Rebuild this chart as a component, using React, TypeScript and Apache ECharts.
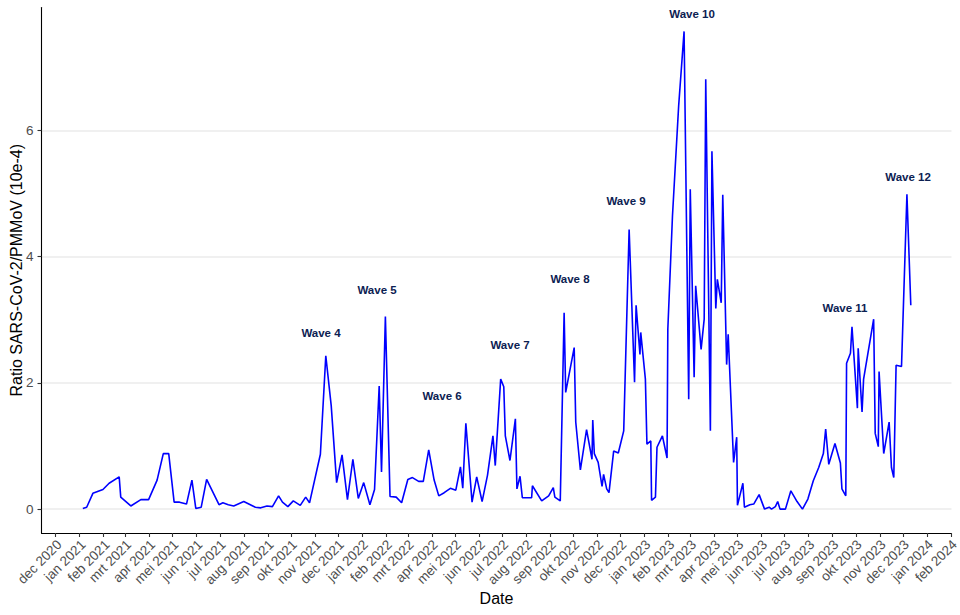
import React, { useEffect, useRef } from "react";
import * as echarts from "echarts";

const DAY = 86400000;
const ORIGIN = Date.UTC(2021, 0, 1);

// sampling dates, as days since 2021-01-01
const sampleDays = [
  4, 9, 17, 30, 38, 51, 53, 66, 79, 89, 100, 108, 115, 122, 129, 138, 145, 150, 157, 164,
  180, 185, 192, 199, 212, 227, 234, 242, 249, 257, 262, 269, 276, 285, 292, 297, 311, 318, 325, 332,
  339, 346, 353, 360, 367, 375, 381, 387, 390, 395, 401, 409, 416, 424, 430, 438, 444, 451, 458, 464,
  471, 479, 486, 492, 495, 499, 507, 513, 520, 527, 534, 537, 544, 548, 550, 556, 563, 565, 569, 572,
  584, 585, 597, 606, 612, 614, 621, 626, 628, 639, 641, 647, 655, 662, 663, 665, 670, 675, 677, 681,
  684, 690, 696, 703, 710, 717, 719, 724, 725, 731, 733, 738, 739, 744, 746, 753, 759, 760, 766, 774,
  781, 787, 789, 794, 796, 803, 807, 809, 815, 817, 822, 824, 829, 831, 836, 838, 845, 849, 850, 857,
  859, 866, 871, 878, 885, 891, 894, 899, 902, 905, 912, 919, 927, 934, 941, 948, 955, 961, 964, 968,
  976, 983, 985, 990, 991, 996, 998, 1005, 1006, 1011, 1013, 1026, 1028, 1032, 1033, 1039, 1046, 1049, 1052, 1055,
  1062, 1069, 1074,
];

// ratio SARS-CoV-2 / PMMoV (10e-4)
const ratioValues = [
  0.01, 0.03, 0.25, 0.31, 0.41, 0.51, 0.19, 0.05, 0.15, 0.15, 0.46, 0.88, 0.88, 0.11, 0.11, 0.08, 0.46, 0.01, 0.03, 0.47,
  0.07, 0.10, 0.07, 0.05, 0.12, 0.03, 0.02, 0.05, 0.04, 0.21, 0.11, 0.04, 0.13, 0.06, 0.19, 0.10, 0.87, 2.43, 1.64, 0.42,
  0.86, 0.15, 0.79, 0.17, 0.42, 0.07, 0.31, 1.95, 0.59, 3.05, 0.20, 0.19, 0.10, 0.47, 0.50, 0.44, 0.44, 0.94, 0.46, 0.21,
  0.26, 0.33, 0.30, 0.67, 0.33, 1.36, 0.11, 0.51, 0.12, 0.54, 1.16, 0.69, 2.06, 1.94, 1.16, 0.77, 1.43, 0.32, 0.52, 0.18,
  0.18, 0.37, 0.13, 0.21, 0.34, 0.19, 0.13, 3.11, 1.85, 2.56, 1.38, 0.62, 1.26, 0.79, 1.41, 0.88, 0.74, 0.36, 0.55, 0.32,
  0.26, 0.92, 0.89, 1.24, 4.43, 2.01, 3.23, 2.45, 2.80, 2.06, 1.03, 1.08, 0.14, 0.19, 0.98, 1.16, 0.81, 2.85, 4.64, 6.39,
  7.57, 1.74, 5.07, 2.09, 3.54, 2.53, 3.01, 6.81, 1.24, 5.67, 3.18, 3.64, 3.27, 4.98, 2.29, 2.77, 0.74, 1.14, 0.06, 0.41,
  0.03, 0.07, 0.08, 0.23, 0.00, 0.03, 0.00, 0.04, 0.12, 0.00, 0.00, 0.29, 0.12, 0.00, 0.16, 0.45, 0.66, 0.88, 1.27, 0.71,
  1.04, 0.73, 0.32, 0.21, 2.31, 2.47, 2.89, 1.60, 2.55, 1.54, 2.06, 3.01, 1.20, 0.99, 2.18, 0.88, 1.38, 0.66, 0.50, 2.28,
  2.26, 4.99, 3.23,
];

// wave annotations: label, position (days since 2021-01-01) and height
const waveNames = ["Wave 4", "Wave 5", "Wave 6", "Wave 7", "Wave 8", "Wave 9", "Wave 10", "Wave 11", "Wave 12"];
const waveDays = [311.8, 384.2, 468.2, 556.1, 633.6, 706, 791.3, 989, 1070.4];
const waveHeights = [2.79, 3.47, 1.79, 2.6, 3.64, 4.88, 7.84, 3.18, 5.26];

// axis labels
const monthNames = ["jan", "feb", "mrt", "apr", "mei", "jun", "jul", "aug", "sep", "okt", "nov", "dec"];
const yTicks = [0, 2, 4, 6];
const firstTick = { year: 2020, month: 11 };
const lastTick = { year: 2024, month: 1 };

const FONT = "'Liberation Sans', Arial, Helvetica, sans-serif";

function monthTicks(): number[] {
  const out: number[] = [];
  let y = firstTick.year;
  let m = firstTick.month;
  while (y < lastTick.year || (y === lastTick.year && m <= lastTick.month)) {
    out.push(Date.UTC(y, m, 1));
    m++;
    if (m > 11) {
      m = 0;
      y++;
    }
  }
  return out;
}

export default function App() {
  const ref = useRef<HTMLDivElement>(null);

  useEffect(() => {
    if (!ref.current) return;
    const chart = echarts.init(ref.current, undefined, { renderer: "svg" });
    const xTicks = monthTicks();
    const option: any = {
      animation: false,
      backgroundColor: "#ffffff",
      textStyle: { fontFamily: FONT },
      grid: {
        left: 41.5,
        right: 8.5,
        top: 7.5,
        bottom: 82,
        containLabel: false,
        outerBoundsMode: "none",
      },
      xAxis: {
        type: "value",
        scale: true,
        min: ORIGIN - 49.4 * DAY,
        max: ORIGIN + 1126.6 * DAY,
        name: "Date",
        nameLocation: "middle",
        nameGap: 57,
        nameMoveOverlap: false,
        nameTextStyle: { fontSize: 16, color: "#000000", fontFamily: FONT },
        axisLine: { onZero: false, lineStyle: { color: "#000000", width: 1.1 } },
        axisTick: { show: true, customValues: xTicks, length: 4, lineStyle: { color: "#333333", width: 1.1 } },
        axisLabel: {
          customValues: xTicks,
          rotate: 45,
          margin: 3,
          verticalAlign: "top",
          padding: [0, 2, 0, 0],
          fontSize: 13.5,
          color: "#4d4d4d",
          fontFamily: FONT,
          hideOverlap: false,
          formatter: (v: number) => {
            const d = new Date(v);
            return monthNames[d.getUTCMonth()] + " " + d.getUTCFullYear();
          },
        },
        splitLine: { show: false },
      },
      yAxis: {
        type: "value",
        min: -0.3785,
        max: 7.9485,
        name: "Ratio SARS-CoV-2/PMMoV (10e-4)",
        nameLocation: "middle",
        nameRotate: 90,
        nameGap: 17,
        nameMoveOverlap: false,
        nameTextStyle: { fontSize: 16, color: "#000000", fontFamily: FONT },
        axisLine: { show: true, onZero: false, lineStyle: { color: "#000000", width: 1.1 } },
        axisTick: { show: true, customValues: yTicks, length: 4, lineStyle: { color: "#333333", width: 1.1 } },
        axisLabel: { customValues: yTicks, margin: 8, fontSize: 13.5, color: "#4d4d4d", fontFamily: FONT },
        splitLine: { show: true, lineStyle: { color: "#ebebeb", width: 1.5 } },
      },
      series: [
        {
          type: "line",
          data: sampleDays.map((d, i) => [ORIGIN + d * DAY, ratioValues[i]]),
          showSymbol: false,
          symbol: "none",
          lineStyle: { color: "#0000ff", width: 1.6 },
          z: 3,
        },
        {
          type: "scatter",
          data: waveNames.map((n, i) => ({ name: n, value: [ORIGIN + waveDays[i] * DAY, waveHeights[i]] })),
          symbolSize: 1,
          itemStyle: { color: "rgba(0,0,0,0)" },
          label: {
            show: true,
            position: "inside",
            formatter: "{b}",
            fontWeight: "bold",
            fontSize: 11.5,
            color: "#0c2152",
            textBorderWidth: 0,
            opacity: 1,
            fontFamily: FONT,
          },
          z: 4,
        },
      ],
    };
    chart.setOption(option);
    return () => chart.dispose();
  }, []);

  return (
    <div
      ref={ref}
      style={{ position: "fixed", left: 0, top: 0, width: 960, height: 615, background: "#fff" }}
    />
  );
}
